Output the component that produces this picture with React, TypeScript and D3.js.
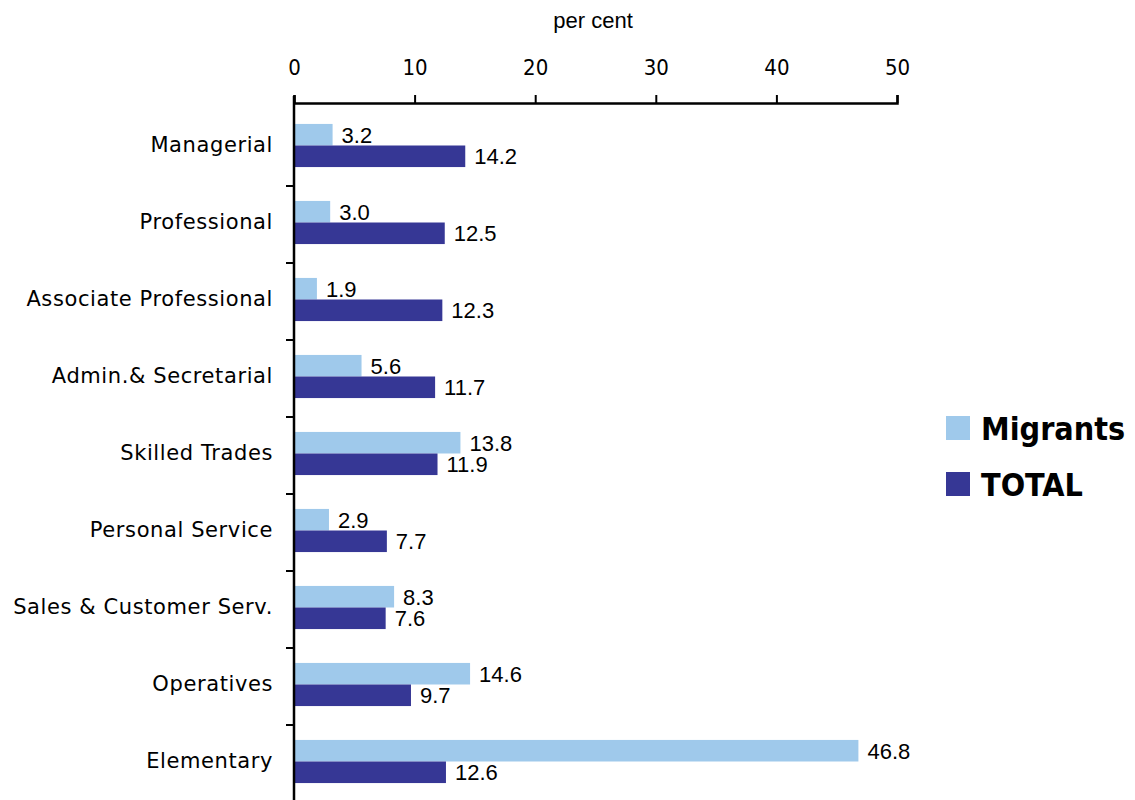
import React, { useRef, useEffect } from "react";
import * as d3 from "d3";

const categories = [
  "Managerial",
  "Professional",
  "Associate Professional",
  "Admin.& Secretarial",
  "Skilled Trades",
  "Personal Service",
  "Sales & Customer Serv.",
  "Operatives",
  "Elementary",
];
const migrants = [3.2, 3.0, 1.9, 5.6, 13.8, 2.9, 8.3, 14.6, 46.8];
const total = [14.2, 12.5, 12.3, 11.7, 11.9, 7.7, 7.6, 9.7, 12.6];
const seriesNames = ["Migrants", "TOTAL"];
const xTickValues = [0, 10, 20, 30, 40, 50];

const colors = ["#9fc9eb", "#363795"];
const labelFont = "'DejaVu Sans', Verdana, sans-serif";
const valueFont = "'Liberation Sans', Arial, sans-serif";

const App: React.FC = () => {
  const svgRef = useRef<SVGSVGElement | null>(null);
  const width = 1135;
  const height = 800;

  useEffect(() => {
    const svg = d3.select(svgRef.current);
    svg.selectAll("*").remove();

    const x = d3.scaleLinear().domain([0, 50]).range([294, 897]);
    const y = d3
      .scaleBand<string>()
      .domain(categories)
      .range([109, 802])
      .paddingInner(0.44)
      .paddingOuter(0.22);
    const sub = d3.scaleBand<string>().domain(seriesNames).range([-2, y.bandwidth() - 2]);

    // top axis
    const xAxis = svg
      .append("g")
      .attr("transform", "translate(0,103)")
      .call(d3.axisTop(x).tickValues(xTickValues).tickSize(8).tickPadding(20).tickFormat(d3.format("d")));
    xAxis.select(".domain").attr("stroke", "#000").attr("stroke-width", 2.5);
    xAxis.selectAll(".tick line").attr("stroke", "#000").attr("stroke-width", 2);
    xAxis
      .selectAll(".tick text")
      .attr("fill", "#000")
      .style("font-family", labelFont)
      .style("font-stretch", "condensed")
      .style("font-size", "22px");

    svg
      .append("text")
      .attr("x", 593)
      .attr("y", 28)
      .attr("text-anchor", "middle")
      .style("font-family", valueFont)
      .style("font-size", "22px")
      .text("per cent");

    // bars
    const groups = svg
      .selectAll("g.cat")
      .data(categories)
      .enter()
      .append("g")
      .attr("class", "cat")
      .attr("transform", (d) => `translate(0,${y(d)})`);

    [migrants, total].forEach((vals, si) => {
      groups
        .append("rect")
        .attr("x", x(0))
        .attr("y", sub(seriesNames[si])!)
        .attr("width", (_, i) => x(vals[i]) - x(0))
        .attr("height", sub.bandwidth())
        .attr("fill", colors[si]);

      groups
        .append("text")
        .attr("x", (_, i) => x(vals[i]) + 9)
        .attr("y", sub(seriesNames[si])! + sub.bandwidth() / 2)
        .attr("dy", "0.36em")
        .style("font-family", valueFont)
        .style("font-size", "22px")
        .text((_, i) => vals[i].toFixed(1));
    });

    // left axis
    const yAxis = svg
      .append("g")
      .attr("transform", `translate(${x(0)},0)`)
      .call(d3.axisLeft(y).tickSize(0).tickPadding(21));
    yAxis.select(".domain").remove();
    yAxis
      .selectAll(".tick text")
      .attr("fill", "#000")
      .attr("dy", "0.2em")
      .style("font-family", labelFont)
      .style("letter-spacing", "0.6px")
      .style("font-size", "21px");

    svg
      .append("line")
      .attr("x1", x(0))
      .attr("x2", x(0))
      .attr("y1", 96)
      .attr("y2", 800)
      .attr("stroke", "#000")
      .attr("stroke-width", 2.5);

    const step = y.step();
    const boundaries = d3.range(1, categories.length + 1).map((i) => 109 + i * step);
    svg
      .selectAll("line.sep")
      .data(boundaries)
      .enter()
      .append("line")
      .attr("class", "sep")
      .attr("x1", x(0) - 8)
      .attr("x2", x(0))
      .attr("y1", (d) => d)
      .attr("y2", (d) => d)
      .attr("stroke", "#000")
      .attr("stroke-width", 2);

    // legend
    const legend = svg.append("g").attr("transform", "translate(946,416)");
    seriesNames.forEach((name, i) => {
      const row = legend.append("g").attr("transform", `translate(0,${i * 56})`);
      row.append("rect").attr("width", 24).attr("height", 24).attr("fill", colors[i]);
      row
        .append("text")
        .attr("x", 35)
        .attr("y", 12)
        .attr("dy", "0.36em")
        .style("font-family", labelFont)
        .style("font-weight", "bold")
        .style("font-stretch", "condensed")
        .style("font-size", "32px")
        .text(name);
    });
  }, []);

  return (
    <div style={{ position: "absolute", left: 0, top: 0, width, height, background: "#fff" }}>
      <svg ref={svgRef} width={width} height={height}></svg>
    </div>
  );
};

export default App;
